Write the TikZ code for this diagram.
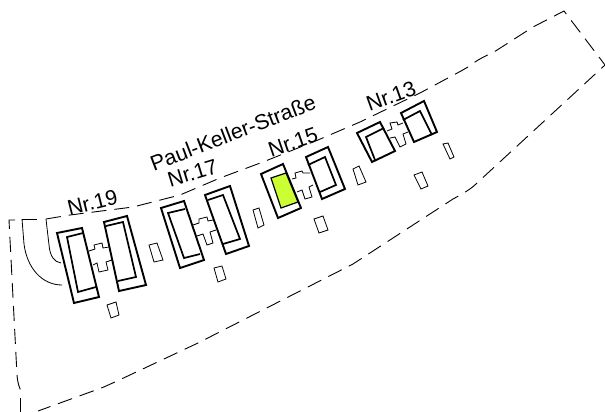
\documentclass[tikz,border=0pt]{standalone}
\usepackage{fontspec}
\setmainfont{Liberation Sans}
\definecolor{plotgreen}{HTML}{CCFF33}
\tikzset{
  wall/.style={draw=black,line width=1.9pt,line join=miter},
  inner wall/.style={draw=black,line width=1.7pt,line join=miter},
  thinline/.style={draw=black,line width=0.8pt,line join=miter},
  plotline/.style={draw=black,line width=0.9pt,dash pattern=on 15pt off 8pt},
  road/.style={draw=black,line width=0.8pt},
  label/.style={font=\fontsize{21.3pt}{22pt}\selectfont,inner sep=0pt,text=black}
}
\begin{document}
\begin{tikzpicture}[x=1pt,y=-1pt]
\useasboundingbox (0,0) rectangle (605,412);
% boundary
\draw[plotline] (46,219) -- (70,215) -- (133,207) -- (180,195) -- (220,178) -- (263,162) -- (318,140) -- (360,122) -- (420,93) -- (461,71) -- (468,67) .. controls (477,60) and (485,56) .. (494,52) -- (533,27) -- (564,11) -- (605,65) -- (477,183) .. controls (470,190) and (462,194) .. (453,199) -- (353,264) -- (198,343) -- (115,382) .. controls (108,385) and (100,389) .. (93,391) -- (38,411);
\draw[plotline] (15,220) -- (9,220) -- (17,375) .. controls (17.5,382) and (19,387) .. (21,391);
\draw[road] (20,398) -- (20,412);
% driveways
\draw[road] (37,219) -- (22,219);
\draw[road] (22,219) -- (24,244) .. controls (27,268) and (42,285) .. (62,285);
\draw[road] (46,219) -- (49,245) .. controls (50,256) and (54,262) .. (61,263);
% Nr.19
\draw[wall] (57,233) -- (82,228) -- (99,297) -- (74,303) -- cycle;
\draw[inner wall] (83,233) -- (67,237) -- (78,292) -- (96,287);
\draw[wall] (104,222) -- (127,216) -- (146,285) -- (119,291) -- cycle;
\draw[inner wall] (106,226) -- (123,222) -- (136,277) -- (118,281);
\draw[thinline] (89,251) -- (95,249) -- (94,245) -- (102,243) -- (103,248) -- (109,247);
\draw[thinline] (112,260) -- (106,262) -- (108,270) -- (99,272) -- (97,263) -- (93,265);
\draw[thinline] (149,245) -- (157,243) -- (163,260) -- (154,262) -- cycle;
\draw[thinline] (107,305) -- (116,302) -- (119,315) -- (111,318) -- cycle;
% Nr.17
\draw[wall] (161,208) -- (184,201) -- (204,260) -- (180,268) -- cycle;
\draw[inner wall] (185,209) -- (168,213) -- (184,258) -- (200,254);
\draw[wall] (205,195) -- (230,186) -- (249,246) -- (226,254) -- cycle;
\draw[inner wall] (208,200) -- (223,195) -- (240,239) -- (223,244);
\draw[thinline] (193,225) -- (199,223) -- (199,219) -- (207,217) -- (208,221) -- (213,220);
\draw[thinline] (216,230) -- (210,232) -- (213,243) -- (207,245) -- (203,234) -- (197,236);
\draw[thinline] (253,210) -- (259,208) -- (264,225) -- (258,228) -- cycle;
\draw[thinline] (214,268) -- (222,266) -- (226,279) -- (218,282) -- cycle;
% Nr.15
\draw[wall] (261,174) -- (283,164) -- (301,208) -- (278,218) -- cycle;
\draw[draw=black,fill=plotgreen,line width=1.2pt] (271,178) -- (286,173) -- (298,202) -- (281,208) -- cycle;
\draw[wall] (306,157) -- (328,147) -- (345,189) -- (322,199) -- cycle;
\draw[inner wall] (308,165) -- (325,157) -- (336,185) -- (320,192);
\draw[thinline] (292,179) -- (296,178) -- (295,173) -- (302,171) -- (303,173) -- (310,173);
\draw[thinline] (313,185) -- (309,187) -- (312,197) -- (305,199) -- (302,190) -- (297,192);
\draw[thinline] (314,219) -- (323,216) -- (328,230) -- (319,233) -- cycle;
% Nr.13
\draw[wall] (357,133) -- (380,122) -- (395,151) -- (372,162) -- cycle;
\draw[inner wall] (375,160) -- (366,137) -- (384,128);
\draw[wall] (401,113) -- (424,101) -- (437,132) -- (414,142) -- cycle;
\draw[inner wall] (403,120) -- (420,111) -- (432,135);
\draw[thinline] (387,131) -- (392,129) -- (390,123) -- (397,122) -- (398,125) -- (403,123);
\draw[thinline] (408,132) -- (403,134) -- (406,144) -- (400,147) -- (395,137) -- (390,138);
\draw[thinline] (353,169) -- (359,166) -- (366,182) -- (358,185) -- cycle;
\draw[thinline] (414,175) -- (422,172) -- (428,186) -- (421,189) -- cycle;
\draw[thinline] (443,144) -- (448,143) -- (454,157) -- (450,159) -- cycle;
% labels
\node[label,rotate=14] (n19) at (92.5,202.5) {Nr.19};
\node[label,rotate=17] (n17) at (192.5,173) {Nr.17};
\node[label,rotate=19] (n15) at (293,142) {Nr.15};
\node[label,rotate=20] (n13) at (391,96) {Nr.13};
\node[label,rotate=21] (street) at (233,133) {Paul-Keller-Straße};
\end{tikzpicture}
\end{document}
